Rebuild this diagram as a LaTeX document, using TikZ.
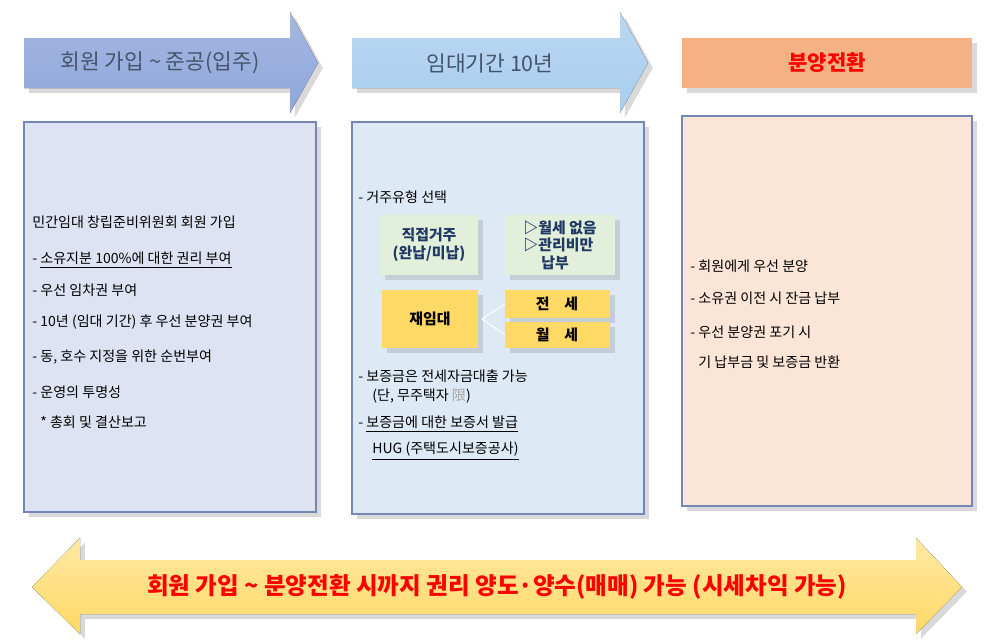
\documentclass[tikz,border=0pt]{standalone}
\usepackage{fontspec}
\setmainfont{Noto Sans CJK KR}
\usetikzlibrary{shapes.arrows, shadows, positioning}
\definecolor{bluearrow}{HTML}{8EA6DA}
\definecolor{skyarrow}{HTML}{A9CDEE}
\definecolor{salmon}{HTML}{F4B183}
\definecolor{panelA}{HTML}{DDE3F3}
\definecolor{panelB}{HTML}{DDE9F5}
\definecolor{panelC}{HTML}{FBE5D6}
\definecolor{frame}{HTML}{7287B5}
\definecolor{greenbox}{HTML}{E2EFDA}
\definecolor{goldbox}{HTML}{FFD966}
\definecolor{titletext}{HTML}{44546A}
\definecolor{navytext}{HTML}{1F3864}
\begin{document}
\begin{tikzpicture}[x=0.02cm, y=-0.02cm,
    panel/.style={draw=frame, line width=0.8pt, drop shadow={opacity=0.3}},
    txt/.style={anchor=west, inner sep=0pt, font=\fontsize{8}{10}\selectfont},
    subbox/.style={align=center, font=\bfseries\fontsize{8.5}{10}\selectfont}]
    \useasboundingbox (0,0) rectangle (1000,639);

    % Top arrows
    \fill[top color=bluearrow!80, bottom color=bluearrow, drop shadow={opacity=0.3}] (24,38) -- (290,38) -- (290,12) -- (318,63) -- (290,113) -- (290,88) -- (24,88) -- cycle;
    \node[font=\fontsize{12.2}{14}\selectfont, text=titletext] (phase1) at (160,63) {회원 가입 \textasciitilde{} 준공(입주)};
    \fill[top color=skyarrow!80, bottom color=skyarrow, drop shadow={opacity=0.3}] (352,38) -- (620,38) -- (620,12) -- (648,63) -- (620,113) -- (620,88) -- (352,88) -- cycle;
    \node[font=\fontsize{12.2}{14}\selectfont, text=titletext] (phase2) at (490,63) {임대기간 10년};
    \fill[salmon, drop shadow={opacity=0.3}] (682,38) rectangle (972,88);
    \node[font=\bfseries\fontsize{12}{14}\selectfont, text=red] (phase3) at (827,63) {분양전환};

    % Panels
    \draw[panel, fill=panelA] (24,122) rectangle (316,512);
    \draw[panel, fill=panelB] (352,122) rectangle (644,514);
    \draw[panel, fill=panelC] (682,116) rectangle (972,506);

    % Left panel text
    \node[txt] (l1) at (32,222) {민간임대 창립준비위원회 회원 가입};
    \node[txt] (l2) at (32,260) {- \underline{소유지분 100\%에 대한 권리 부여}};
    \node[txt] (l3) at (32,290) {- 우선 임차권 부여};
    \node[txt] (l4) at (32,322) {- 10년 (임대 기간) 후 우선 분양권 부여};
    \node[txt] (l5) at (32,357) {- 동, 호수 지정을 위한 순번부여};
    \node[txt] (l6) at (32,392) {- 운영의 투명성};
    \node[txt] (l7) at (40,422) {* 총회 및 결산보고};

    % Middle panel
    \node[txt] (m1) at (358,197) {- 거주유형 선택};
    \fill[greenbox, drop shadow={opacity=0.25}] (380,215) rectangle (478,275);
    \node[subbox, text=navytext] (direct) at (429,245) {직접거주\\(완납/미납)};
    \fill[greenbox, drop shadow={opacity=0.25}] (505,215) rectangle (615,275);
    \node[subbox, text=navytext, align=left] (nofee) at (560,245) {▷월세 없음\\▷관리비만\\\hspace{1.2em}납부};
    \fill[goldbox, drop shadow={opacity=0.25}] (382,290) rectangle (478,348);
    \node[subbox] (sublet) at (430,319) {재임대};
    \fill[goldbox, drop shadow={opacity=0.25}] (505,290) rectangle (610,318);
    \node[subbox] (jeonse) at (557,304) {전\quad 세};
    \fill[goldbox, drop shadow={opacity=0.25}] (505,322) rectangle (610,348);
    \node[subbox] (wolse) at (557,335) {월\quad 세};
    \coordinate (split) at (482,319);
    \draw[white, line width=0.6pt] (split) -- (505,304);
    \draw[white, line width=0.6pt] (split) -- (505,335);
    \node[txt] (m2) at (358,376) {- 보증금은 전세자금대출 가능};
    \node[txt] (m3) at (372,396) {(단, 무주택자 \textcolor{gray!70}{限})};
    \node[txt] (m4) at (358,424) {- \underline{보증금에 대한 보증서 발급}};
    \node[txt] (m5) at (372,451) {\underline{HUG (주택도시보증공사)}};

    % Right panel
    \node[txt] (r1) at (690,266) {- 회원에게 우선 분양};
    \node[txt] (r2) at (690,298) {- 소유권 이전 시 잔금 납부};
    \node[txt] (r3) at (690,332) {- 우선 분양권 포기 시};
    \node[txt] (r4) at (698,362) {기 납부금 및 보증금 반환};

    % Bottom double arrow
    \fill[top color=goldbox!60, bottom color=goldbox, drop shadow={opacity=0.3}] (32,587) -- (80,538) -- (80,560) -- (916,560) -- (916,538) -- (962,587) -- (916,634) -- (916,614) -- (80,614) -- (80,634) -- cycle;
    \node[font=\bfseries\fontsize{13.4}{15}\selectfont, text=red] (resale) at (497,587) {회원 가입 \textasciitilde{} 분양전환 시까지 권리 양도·양수(매매) 가능 (시세차익 가능)};
\end{tikzpicture}
\end{document}
